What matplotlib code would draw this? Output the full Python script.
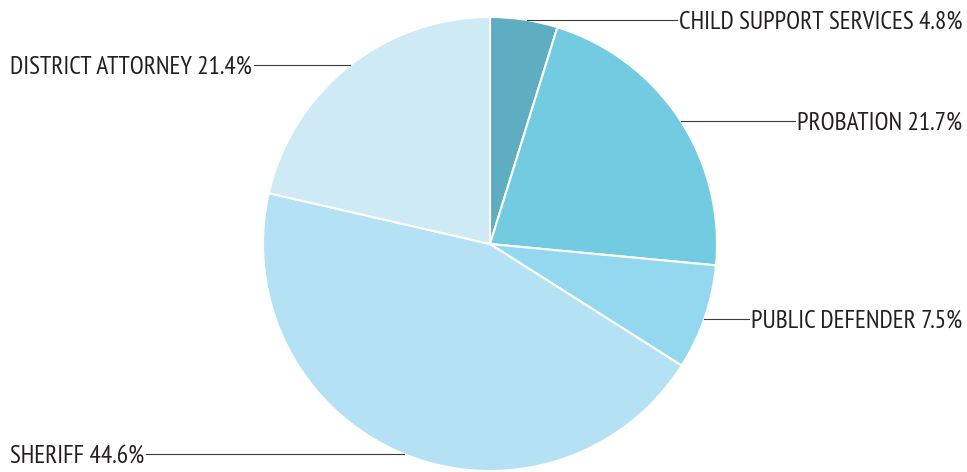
import matplotlib
import numpy as np

matplotlib.use("Agg")
import matplotlib.pyplot as plt

departments = ["CHILD SUPPORT SERVICES", "PROBATION", "PUBLIC DEFENDER", "SHERIFF", "DISTRICT ATTORNEY"]
shares = [4.8, 21.7, 7.5, 44.6, 21.4]

COLORS = ["#5eadc0", "#72cbe0", "#94d8ef", "#b4e2f4", "#cdeaf5"]
INK = "#231f20"
FS = 18.2

plt.rcParams["font.family"] = ["PT Sans Narrow", "Roboto Condensed", "DejaVu Sans"]

W, H = 967, 472
fig = plt.figure(figsize=(W / 100, H / 100), dpi=100)
ax = fig.add_axes([0, 0, 1, 1])

# pie in pixel-like coords (y up)
cx, cy, r = 490, H - 244, 227
ax.pie(shares, colors=COLORS, startangle=90, counterclock=False,
       center=(cx, cy), radius=r,
       wedgeprops=dict(edgecolor="white", linewidth=1.5))
ax.set_xlim(0, W)
ax.set_ylim(0, H)
ax.set_aspect("equal")
ax.axis("off")

# label side and leader line height (pixels from top)
layout = [("right", 20), ("right", 121), ("right", 319), ("left", 454), ("left", 65)]

cap = 0.70 * FS * 100 / 72
texts = []
for name, val, (side, ytop) in zip(departments, shares, layout):
    y = H - ytop
    label = f"{name} {val:.1f}%"
    if side == "right":
        t = ax.text(962, y - cap / 2, label, ha="right", va="baseline", fontsize=FS, color=INK)
    else:
        t = ax.text(10, y - cap / 2, label, ha="left", va="baseline", fontsize=FS, color=INK)
    texts.append((t, side, y))

fig.canvas.draw()
inv = ax.transData.inverted()
for t, side, y in texts:
    bb = t.get_window_extent().transformed(inv)
    dx = np.sqrt(r ** 2 - (y - cy) ** 2)
    if side == "right":
        ax.plot([cx + dx, bb.x0 - 2], [y, y], color="#3a3a3a", linewidth=0.8)
    else:
        ax.plot([bb.x1 + 2, cx - dx], [y, y], color="#3a3a3a", linewidth=0.8)

fig.savefig("out.png", dpi=100)
